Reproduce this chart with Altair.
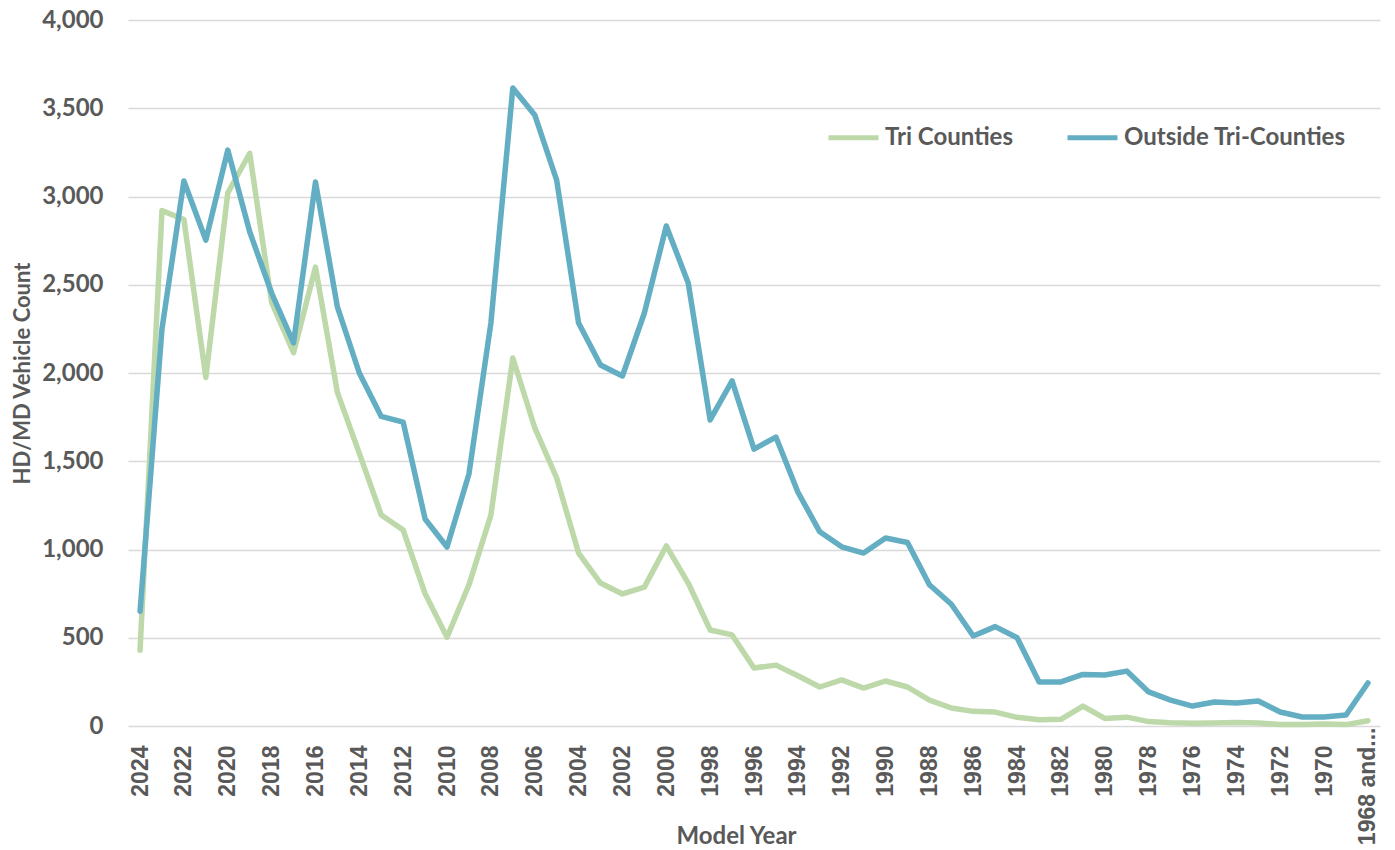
import altair as alt
import pandas as pd

model_years = ["2024", "2023", "2022", "2021", "2020", "2019", "2018", "2017", "2016", "2015",
               "2014", "2013", "2012", "2011", "2010", "2009", "2008", "2007", "2006", "2005",
               "2004", "2003", "2002", "2001", "2000", "1999", "1998", "1997", "1996", "1995",
               "1994", "1993", "1992", "1991", "1990", "1989", "1988", "1987", "1986", "1985",
               "1984", "1983", "1982", "1981", "1980", "1979", "1978", "1977", "1976", "1975",
               "1974", "1973", "1972", "1971", "1970", "1969", "1968 and older"]

tri_counties = [430, 2920, 2870, 1975, 3020, 3245, 2400, 2115, 2600, 1890,
                1545, 1195, 1110, 750, 503, 800, 1195, 2085, 1690, 1405,
                980, 810, 748, 787, 1020, 810, 544, 516, 329, 345,
                285, 221, 261, 215, 255, 221, 147, 102, 83, 79,
                49, 36, 38, 113, 43, 50, 25, 18, 15, 17,
                20, 17, 8, 8, 12, 8, 30]

outside_tri = [650, 2250, 3088, 2753, 3263, 2800, 2453, 2170, 3082, 2374,
               2000, 1754, 1722, 1173, 1014, 1428, 2283, 3615, 3462, 3093,
               2283, 2045, 1983, 2340, 2833, 2510, 1734, 1955, 1569, 1637,
               1326, 1100, 1015, 980, 1065, 1040, 800, 690, 510, 563,
               500, 250, 250, 292, 289, 311, 193, 147, 113, 136,
               130, 142, 79, 51, 51, 62, 244]

series_names = ["Tri Counties", "Outside Tri-Counties"]
series_colors = ["#bdd8a9", "#63aec3"]
y_ticks = [0, 500, 1000, 1500, 2000, 2500, 3000, 3500, 4000]

rows = []
for name, vals in zip(series_names, [tri_counties, outside_tri]):
    for yr, v in zip(model_years, vals):
        rows.append({"Model Year": yr, "Series": name, "Count": v})
df = pd.DataFrame(rows)

label_years = model_years[::2]
text_color = "#595959"
font = "Lato"

chart = alt.Chart(df).mark_line(strokeWidth=5.5, strokeCap="round", strokeJoin="round").encode(
    x=alt.X("Model Year:O", sort=model_years,
            scale=alt.Scale(padding=0.55),
            axis=alt.Axis(values=label_years, labelAngle=270, labelAlign="right", labelBaseline="middle",
                          labelPadding={"condition": {"test": "datum.label == '1968 and older'", "value": 1},
                                        "value": 19},
                          ticks=False, domain=False, grid=False, labelLimit=300,
                          labelFont="Liberation Sans", labelFontWeight="bold", labelFontSize=23,
                          labelColor=text_color,
                          labelExpr="datum.label == '1968 and older' ? '1968 and...' : datum.label",
                          title="Model Year", titleFont=font, titleFontWeight="bold", titleFontSize=24,
                          titleColor=text_color, titleX=608, titleY=117, titleBaseline="alphabetic",
                          titleAlign="center")),
    y=alt.Y("Count:Q", scale=alt.Scale(domain=[0, 4000], nice=False),
            axis=alt.Axis(values=y_ticks, format=",.0f", ticks=False, domain=False,
                          grid=True, gridColor="#d9d9d9", gridWidth=1.5,
                          labelPadding=25, labelFont=font, labelFontWeight="bold", labelFontSize=24,
                          labelColor=text_color,
                          title="HD/MD Vehicle Count", titleFont=font, titleFontWeight="bold",
                          titleFontSize=22, titleColor=text_color, titleAngle=270,
                          titleX=-106, titleY=353, titleAlign="center", titleBaseline="middle")),
    color=alt.Color("Series:N", sort=series_names,
                    scale=alt.Scale(domain=series_names, range=series_colors),
                    legend=alt.Legend(title=None, orient="none", direction="horizontal",
                                      legendX=698, legendY=90,
                                      symbolType="stroke", symbolStrokeWidth=5, symbolSize=2500,
                                      labelFont=font, labelFontWeight="bold", labelFontSize=24,
                                      labelColor=text_color, labelOffset=4, columnPadding=44,
                                      labelLimit=400)),
    order=alt.Order("Series:N", sort="descending"),
).properties(
    width=1252, height=706,
    autosize="none",
    padding={"left": 120, "top": 12, "right": 5, "bottom": 122},
).configure_view(stroke=None)

chart.save("out.html", embed_options={"renderer": "svg", "actions": False})
